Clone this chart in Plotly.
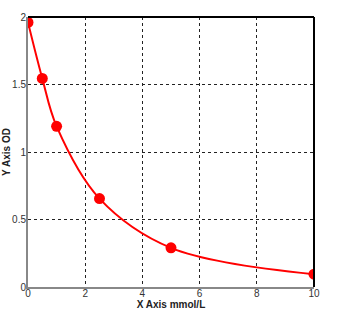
import plotly.graph_objects as go

x_vals = [0, 0.5, 1, 2.5, 5, 10]
y_vals = [1.96, 1.545, 1.19, 0.655, 0.29, 0.095]
x_ticks = [0, 2, 4, 6, 8, 10]
y_ticks = [0, 0.5, 1, 1.5, 2]
y_tick_text = ["0", "0.5", "1", "1.5", "2"]

fig = go.Figure()
fig.add_trace(go.Scatter(
    x=x_vals, y=y_vals, mode="lines+markers",
    line=dict(color="#ff0000", width=2, shape="spline", smoothing=1.0),
    marker=dict(color="#ff0000", size=11, symbol="circle"),
    showlegend=False, hoverinfo="skip"))

fig.update_layout(
    width=342, height=322,
    margin=dict(l=28, r=28, t=17, b=35),
    paper_bgcolor="white", plot_bgcolor="white",
    font=dict(family="Arial, Liberation Sans, sans-serif", size=10, color="#333"),
    xaxis=dict(range=[0, 10], tickvals=x_ticks, showgrid=True, gridcolor="#222",
               griddash="dot", gridwidth=1, zeroline=False, showline=True,
               linecolor="#888", linewidth=2, ticks="", tickfont=dict(size=10, color="#333"),
               ticklabelstandoff=-4,
               title=dict(text="<b>X Axis mmol/L</b>", font=dict(size=10, color="#222"), standoff=0),
               automargin=False),
    yaxis=dict(range=[0, 2], tickvals=y_ticks, ticktext=y_tick_text, showgrid=True, gridcolor="#222",
               griddash="dot", gridwidth=1, zeroline=False, showline=True,
               linecolor="#888", linewidth=2, ticks="", tickfont=dict(size=10, color="#333"),
               ticklabelstandoff=-2,
               title=dict(text="<b>Y Axis OD</b>", font=dict(size=10, color="#222"), standoff=0),
               automargin=False),
    shapes=[
        dict(type="line", xref="paper", yref="paper", x0=0, x1=1, y0=1, y1=1,
             line=dict(color="black", width=2)),
        dict(type="line", xref="paper", yref="paper", x0=1, x1=1, y0=0, y1=1,
             line=dict(color="black", width=2)),
    ],
)
fig.write_html("out.html")
